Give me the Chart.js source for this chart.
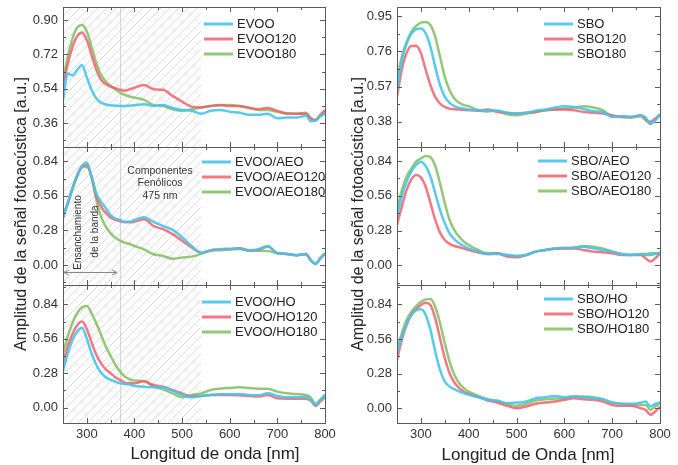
<!DOCTYPE html>
<html>
<head>
<meta charset="utf-8">
<script src="https://cdn.jsdelivr.net/npm/chart.js@4.4.1/dist/chart.umd.min.js"></script>
<style>
body { margin: 0; background: #fff; font-family: "Liberation Sans", Arial, sans-serif; }
#wrap { position: relative; width: 678px; height: 465px; overflow: hidden; }
.panel { position: absolute; }
.atitle { position: absolute; white-space: nowrap; font-size: 16px; color: #222; }
.xt { font-size: 17px; }
</style>
</head>
<body>
<div id="wrap"></div>
<script>
// wavelengths in nm, shared by every series
var wavelengths = [250, 260, 270, 280, 290, 300, 310, 320, 330, 340, 350, 360, 370, 380, 390, 400,
    420, 440, 460, 480, 500, 520, 540, 560, 580, 600, 620, 640, 660, 680, 700, 720, 740, 760,
    770, 780, 790, 800];

var evoo = [0.48, 0.62, 0.61, 0.64, 0.665, 0.60, 0.534, 0.49, 0.468, 0.458, 0.454, 0.452, 0.45, 0.45, 0.452, 0.454,
    0.46, 0.45, 0.455, 0.44, 0.43, 0.426, 0.41, 0.426, 0.43, 0.42, 0.416, 0.404, 0.404, 0.41, 0.386, 0.39, 0.39, 0.40,
    0.37, 0.375, 0.395, 0.41];
var evoo120 = [0.55, 0.67, 0.76, 0.816, 0.835, 0.795, 0.717, 0.64, 0.587, 0.564, 0.552, 0.543, 0.535, 0.53, 0.538, 0.546,
    0.56, 0.538, 0.535, 0.503, 0.473, 0.447, 0.443, 0.45, 0.456, 0.45, 0.45, 0.44, 0.434, 0.44, 0.425, 0.41, 0.41, 0.41,
    0.386, 0.377, 0.404, 0.43];
var evoo180 = [0.586, 0.708, 0.804, 0.862, 0.874, 0.84, 0.76, 0.674, 0.613, 0.578, 0.555, 0.538, 0.52, 0.508, 0.50, 0.494,
    0.482, 0.456, 0.45, 0.433, 0.425, 0.433, 0.443, 0.45, 0.454, 0.456, 0.45, 0.443, 0.43, 0.43, 0.42, 0.412, 0.41, 0.415,
    0.386, 0.374, 0.40, 0.42];

var evooAeo = [0.39, 0.50, 0.62, 0.73, 0.80, 0.83, 0.716, 0.58, 0.513, 0.46, 0.405, 0.376, 0.365, 0.35, 0.35, 0.365,
    0.386, 0.35, 0.316, 0.284, 0.225, 0.154, 0.10, 0.12, 0.127, 0.13, 0.135, 0.12, 0.127, 0.154, 0.095, 0.09, 0.08, 0.09,
    0.04, 0.008, 0.054, 0.095];
var evooAeo120 = [0.38, 0.50, 0.62, 0.73, 0.80, 0.81, 0.716, 0.554, 0.473, 0.42, 0.386, 0.365, 0.354, 0.346, 0.346, 0.35,
    0.37, 0.316, 0.29, 0.25, 0.197, 0.143, 0.10, 0.12, 0.127, 0.13, 0.135, 0.12, 0.122, 0.15, 0.095, 0.09, 0.08, 0.09,
    0.04, 0.01, 0.054, 0.095];
var evooAeo180 = [0.40, 0.50, 0.62, 0.72, 0.79, 0.797, 0.71, 0.527, 0.39, 0.31, 0.256, 0.22, 0.197, 0.18, 0.17, 0.154,
    0.127, 0.087, 0.073, 0.05, 0.06, 0.068, 0.09, 0.115, 0.12, 0.125, 0.13, 0.115, 0.116, 0.114, 0.095, 0.09, 0.08, 0.085,
    0.04, 0.01, 0.05, 0.09];

var evooHo = [0.30, 0.44, 0.55, 0.62, 0.65, 0.56, 0.44, 0.347, 0.284, 0.246, 0.225, 0.21, 0.198, 0.192, 0.187, 0.176,
    0.17, 0.165, 0.165, 0.138, 0.103, 0.084, 0.095, 0.103, 0.108, 0.108, 0.11, 0.103, 0.10, 0.116, 0.095, 0.084, 0.084, 0.09,
    0.063, 0.02, 0.063, 0.103];
var evooHo120 = [0.36, 0.50, 0.60, 0.67, 0.70, 0.64, 0.53, 0.43, 0.36, 0.31, 0.28, 0.246, 0.225, 0.203, 0.198, 0.198,
    0.214, 0.184, 0.17, 0.143, 0.116, 0.09, 0.095, 0.103, 0.103, 0.103, 0.10, 0.095, 0.09, 0.103, 0.076, 0.073, 0.073, 0.073,
    0.057, 0.014, 0.049, 0.084];
var evooHo180 = [0.44, 0.58, 0.69, 0.77, 0.815, 0.826, 0.767, 0.685, 0.59, 0.496, 0.42, 0.347, 0.293, 0.252, 0.23, 0.22,
    0.216, 0.17, 0.149, 0.116, 0.084, 0.103, 0.116, 0.143, 0.154, 0.16, 0.165, 0.16, 0.154, 0.154, 0.13, 0.116, 0.11, 0.103,
    0.084, 0.03, 0.063, 0.103];

var sbo = [0.55, 0.71, 0.80, 0.856, 0.878, 0.883, 0.856, 0.784, 0.676, 0.577, 0.514, 0.482, 0.464, 0.455, 0.45, 0.446,
    0.442, 0.44, 0.44, 0.428, 0.424, 0.428, 0.44, 0.446, 0.457, 0.464, 0.46, 0.45, 0.437, 0.433, 0.406, 0.41, 0.406, 0.415,
    0.403, 0.37, 0.388, 0.42];
var sbo120 = [0.515, 0.66, 0.75, 0.788, 0.79, 0.75, 0.66, 0.577, 0.514, 0.478, 0.46, 0.45, 0.448, 0.446, 0.444, 0.442,
    0.44, 0.446, 0.433, 0.428, 0.424, 0.428, 0.433, 0.442, 0.446, 0.446, 0.442, 0.433, 0.428, 0.424, 0.415, 0.406, 0.406, 0.415,
    0.39, 0.38, 0.397, 0.42];
var sbo180 = [0.605, 0.73, 0.81, 0.865, 0.896, 0.914, 0.918, 0.90, 0.838, 0.73, 0.622, 0.55, 0.505, 0.482, 0.47, 0.464,
    0.442, 0.435, 0.44, 0.42, 0.415, 0.424, 0.433, 0.442, 0.446, 0.45, 0.457, 0.464, 0.457, 0.442, 0.41, 0.406, 0.403, 0.41,
    0.39, 0.367, 0.392, 0.42];

var sboAeo = [0.392, 0.553, 0.674, 0.754, 0.808, 0.835, 0.80, 0.714, 0.58, 0.445, 0.338, 0.257, 0.21, 0.177, 0.155, 0.136,
    0.11, 0.09, 0.09, 0.083, 0.075, 0.083, 0.11, 0.123, 0.136, 0.142, 0.142, 0.15, 0.136, 0.123, 0.11, 0.09, 0.083, 0.09,
    0.083, 0.083, 0.09, 0.10];
var sboAeo120 = [0.325, 0.472, 0.606, 0.692, 0.727, 0.708, 0.633, 0.50, 0.365, 0.263, 0.204, 0.172, 0.155, 0.145, 0.134, 0.123,
    0.102, 0.09, 0.096, 0.07, 0.064, 0.083, 0.11, 0.123, 0.134, 0.136, 0.136, 0.123, 0.11, 0.105, 0.096, 0.083, 0.083, 0.083,
    0.056, 0.03, 0.056, 0.096];
var sboAeo180 = [0.445, 0.606, 0.714, 0.78, 0.835, 0.86, 0.88, 0.87, 0.80, 0.66, 0.50, 0.365, 0.284, 0.23, 0.19, 0.163,
    0.123, 0.096, 0.096, 0.083, 0.075, 0.083, 0.11, 0.123, 0.134, 0.136, 0.142, 0.155, 0.15, 0.136, 0.11, 0.09, 0.083, 0.09,
    0.09, 0.096, 0.096, 0.10];

var sboHo = [0.445, 0.58, 0.687, 0.754, 0.79, 0.80, 0.754, 0.633, 0.458, 0.31, 0.216, 0.176, 0.154, 0.135, 0.122, 0.108,
    0.09, 0.068, 0.063, 0.041, 0.046, 0.054, 0.081, 0.09, 0.10, 0.09, 0.095, 0.09, 0.081, 0.073, 0.046, 0.036, 0.036, 0.046,
    0.054, 0.014, 0.036, 0.046];
var sboHo120 = [0.39, 0.552, 0.673, 0.754, 0.80, 0.835, 0.853, 0.835, 0.727, 0.566, 0.404, 0.283, 0.208, 0.162, 0.133, 0.116,
    0.09, 0.063, 0.046, 0.02, 0.0, 0.014, 0.036, 0.046, 0.054, 0.068, 0.081, 0.073, 0.068, 0.054, 0.027, 0.02, 0.02, 0.0,
    -0.013, -0.053, -0.026, 0.014];
var sboHo180 = [0.47, 0.606, 0.714, 0.78, 0.826, 0.86, 0.88, 0.883, 0.82, 0.687, 0.525, 0.377, 0.27, 0.202, 0.162, 0.135,
    0.10, 0.073, 0.054, 0.036, 0.02, 0.036, 0.063, 0.073, 0.078, 0.081, 0.095, 0.095, 0.09, 0.073, 0.046, 0.036, 0.027, 0.027,
    0.027, -0.013, 0.014, 0.041];

// tick labels
var xTicks = [300, 400, 500, 600, 700, 800];
var yTicksEvoo = [0.36, 0.54, 0.72, 0.90];
var yTicksSbo = [0.38, 0.57, 0.76, 0.95];
var yTicksLower = [0.00, 0.28, 0.56, 0.84];

var colors = ['rgba(70,196,236,0.9)', 'rgba(240,98,108,0.85)', 'rgba(135,194,105,0.9)'];

var panels = [
    { left: 63, right: 325, top: 7, bottom: 147, min: 0.236, max: 0.968, ticks: yTicksEvoo, hatch: true, leg: [141, 17],
      names: ['EVOO', 'EVOO120', 'EVOO180'], series: [evoo, evoo120, evoo180] },
    { left: 63, right: 325, top: 147, bottom: 285, min: -0.162, max: 0.956, ticks: yTicksLower, hatch: true, note: true, leg: [139, 15],
      names: ['EVOO/AEO', 'EVOO/AEO120', 'EVOO/AEO180'], series: [evooAeo, evooAeo120, evooAeo180] },
    { left: 63, right: 325, top: 285, bottom: 423, min: -0.125, max: 0.997, ticks: yTicksLower, hatch: true, xaxis: true, leg: [139, 17],
      names: ['EVOO/HO', 'EVOO/HO120', 'EVOO/HO180'], series: [evooHo, evooHo120, evooHo180] },
    { left: 397, right: 660, top: 7, bottom: 147, min: 0.244, max: 0.9985, ticks: yTicksSbo, leg: [147, 17],
      names: ['SBO', 'SBO120', 'SBO180'], series: [sbo, sbo120, sbo180] },
    { left: 397, right: 660, top: 147, bottom: 285, min: -0.159, max: 0.953, ticks: yTicksLower, leg: [141, 14],
      names: ['SBO/AEO', 'SBO/AEO120', 'SBO/AEO180'], series: [sboAeo, sboAeo120, sboAeo180] },
    { left: 397, right: 660, top: 285, bottom: 423, min: -0.119, max: 0.996, ticks: yTicksLower, xaxis: true, leg: [147, 14],
      names: ['SBO/HO', 'SBO/HO120', 'SBO/HO180'], series: [sboHo, sboHo120, sboHo180] }
];

var AXIS_W = 45, PAD = 16, PAD_R = 18, XAXIS_H = 42;

function tickLine(ctx, x1, y1, x2, y2) {
    ctx.moveTo(x1, y1);
    ctx.lineTo(x2, y2);
}

var frame = {
    id: 'frame',
    beforeDatasetsDraw: function(chart, args, o) {
        if (!o.hatch) return;
        var a = chart.chartArea, ctx = chart.ctx, xs = chart.scales.x;
        var x0 = xs.getPixelForValue(250), x1 = xs.getPixelForValue(540), xm = xs.getPixelForValue(370);
        var h = a.bottom - a.top;
        ctx.save();
        ctx.beginPath();
        ctx.rect(x0, a.top, x1 - x0, h);
        ctx.clip();
        ctx.strokeStyle = '#dcdcdc';
        ctx.lineWidth = 1;
        ctx.beginPath();
        for (var s = x0 - h; s < x1; s += 9) tickLine(ctx, s, a.bottom, s + h, a.top);
        ctx.stroke();
        ctx.restore();
        ctx.save();
        ctx.strokeStyle = '#cfcfcf';
        ctx.beginPath();
        tickLine(ctx, xm + 0.5, a.top, xm + 0.5, a.bottom);
        ctx.stroke();
        ctx.restore();
    },
    afterDraw: function(chart, args, o) {
        var a = chart.chartArea, ctx = chart.ctx, xs = chart.scales.x, ys = chart.scales.y;
        ctx.save();
        ctx.strokeStyle = '#5a5a5a';
        ctx.lineWidth = 1;
        ctx.strokeRect(Math.round(a.left) + 0.5, Math.round(a.top) + 0.5, Math.round(a.right - a.left), Math.round(a.bottom - a.top));
        ctx.beginPath();
        for (var v = 250; v <= 800; v += 50) {
            var px = Math.round(xs.getPixelForValue(v)) + 0.5;
            var len = v % 100 === 0 ? 5 : 3;
            tickLine(ctx, px, a.bottom, px, a.bottom - len);
            tickLine(ctx, px, a.top, px, a.top + len);
        }
        var st = o.ticks[1] - o.ticks[0];
        for (var k = -1; k < o.ticks.length * 2 + 1; k++) {
            var yv = o.ticks[0] + k * st / 2;
            if (yv < ys.min || yv > ys.max) continue;
            var py = Math.round(ys.getPixelForValue(yv)) + 0.5;
            var l2 = k % 2 === 0 ? 5 : 3;
            tickLine(ctx, a.left, py, a.left + l2, py);
            tickLine(ctx, a.right, py, a.right - l2, py);
        }
        ctx.stroke();

        // legend inside the plot
        ctx.font = '13px "Liberation Sans", Arial, sans-serif';
        ctx.textBaseline = 'middle';
        ctx.textAlign = 'left';
        chart.data.datasets.forEach(function(ds, i) {
            var lx = a.left + o.leg[0], ly = a.top + o.leg[1] + i * 15;
            ctx.strokeStyle = ds.borderColor;
            ctx.lineWidth = 3;
            ctx.beginPath();
            tickLine(ctx, lx, ly, lx + 29, ly);
            ctx.stroke();
            ctx.fillStyle = '#222';
            ctx.fillText(ds.label, lx + 33, ly + 0.5);
        });

        if (o.note) {
            ctx.fillStyle = '#333';
            ctx.font = '10.5px "Liberation Sans", Arial, sans-serif';
            ctx.textAlign = 'center';
            ctx.fillText('Componentes', a.left + 97, a.top + 24);
            ctx.fillText('Fenólicos', a.left + 97, a.top + 36.5);
            ctx.fillText('475 nm', a.left + 97, a.top + 49);
            ctx.font = '10px "Liberation Sans", Arial, sans-serif';
            ctx.save();
            ctx.translate(a.left + 15.5, a.top + 85.5);
            ctx.rotate(-Math.PI / 2);
            ctx.fillText('Ensanchamiento', 0, 0);
            ctx.restore();
            ctx.save();
            ctx.translate(a.left + 32.5, a.top + 84.5);
            ctx.rotate(-Math.PI / 2);
            ctx.fillText('de la banda', 0, 0);
            ctx.restore();
            // double arrow
            var ay = a.top + 125.5, ax0 = a.left + 1, ax1 = a.left + 54;
            ctx.strokeStyle = '#888';
            ctx.lineWidth = 1;
            ctx.beginPath();
            tickLine(ctx, ax0, ay, ax1, ay);
            tickLine(ctx, ax0, ay, ax0 + 5, ay - 2.5);
            tickLine(ctx, ax0, ay, ax0 + 5, ay + 2.5);
            tickLine(ctx, ax1, ay, ax1 - 5, ay - 2.5);
            tickLine(ctx, ax1, ay, ax1 - 5, ay + 2.5);
            ctx.stroke();
        }
        ctx.restore();
    }
};

var wrap = document.getElementById('wrap');

panels.forEach(function(p) {
    var w = AXIS_W + (p.right - p.left) + PAD_R;
    var h = PAD + (p.bottom - p.top) + (p.xaxis ? XAXIS_H : PAD);
    var div = document.createElement('div');
    div.className = 'panel';
    div.style.left = (p.left - AXIS_W) + 'px';
    div.style.top = (p.top - PAD) + 'px';
    div.style.width = w + 'px';
    div.style.height = h + 'px';
    var canvas = document.createElement('canvas');
    div.appendChild(canvas);
    wrap.appendChild(div);

    var datasets = p.series.map(function(arr, i) {
        return {
            label: p.names[i],
            data: wavelengths.map(function(wl, j) { return { x: wl, y: arr[j] }; }),
            borderColor: colors[i],
            borderWidth: 2.5,
            pointRadius: 0,
            cubicInterpolationMode: 'monotone',
            fill: false
        };
    });

    new Chart(canvas, {
        type: 'line',
        data: { datasets: datasets },
        plugins: [frame],
        options: {
            responsive: true,
            maintainAspectRatio: false,
            animation: false,
            layout: { padding: { left: 0, top: PAD, right: PAD_R, bottom: p.xaxis ? 0 : PAD } },
            plugins: {
                legend: { display: false },
                tooltip: { enabled: false },
                frame: { hatch: !!p.hatch, note: !!p.note, ticks: p.ticks, leg: p.leg }
            },
            scales: {
                x: {
                    type: 'linear',
                    min: 250,
                    max: 800,
                    display: !!p.xaxis,
                    grid: { display: false, drawTicks: false },
                    border: { display: false },
                    afterBuildTicks: function(s) { s.ticks = xTicks.map(function(v) { return { value: v }; }); },
                    afterFit: function(s) { if (p.xaxis) s.height = XAXIS_H; },
                    ticks: {
                        autoSkip: false,
                        maxRotation: 0,
                        padding: 4,
                        color: '#333',
                        font: { size: 13, family: '"Liberation Sans", Arial, sans-serif' },
                        callback: function(v) { return String(v); }
                    }
                },
                y: {
                    min: p.min,
                    max: p.max,
                    grid: { display: false, drawTicks: false },
                    border: { display: false },
                    afterBuildTicks: function(s) { s.ticks = p.ticks.map(function(v) { return { value: v }; }); },
                    afterFit: function(s) { s.width = AXIS_W; },
                    ticks: {
                        padding: 5,
                        color: '#333',
                        font: { size: 13, family: '"Liberation Sans", Arial, sans-serif' },
                        callback: function(v) { return Number(v).toFixed(2); }
                    }
                }
            }
        }
    });
});

// axis titles
function addTitle(text, x, y, rotate) {
    var d = document.createElement('div');
    d.className = 'atitle' + (rotate ? '' : ' xt');
    d.textContent = text;
    d.style.left = x + 'px';
    d.style.top = y + 'px';
    d.style.transform = 'translate(-50%,-50%)' + (rotate ? ' rotate(-90deg)' : '');
    wrap.appendChild(d);
}
addTitle('Amplitud de la señal fotoacústica [a.u.]', 21, 214, true);
addTitle('Amplitud de la señal fotoacústica [a.u.]', 358, 214, true);
addTitle('Longitud de onda [nm]', 215, 454, false);
addTitle('Longitud de Onda [nm]', 528, 455, false);
</script>
</body>
</html>
